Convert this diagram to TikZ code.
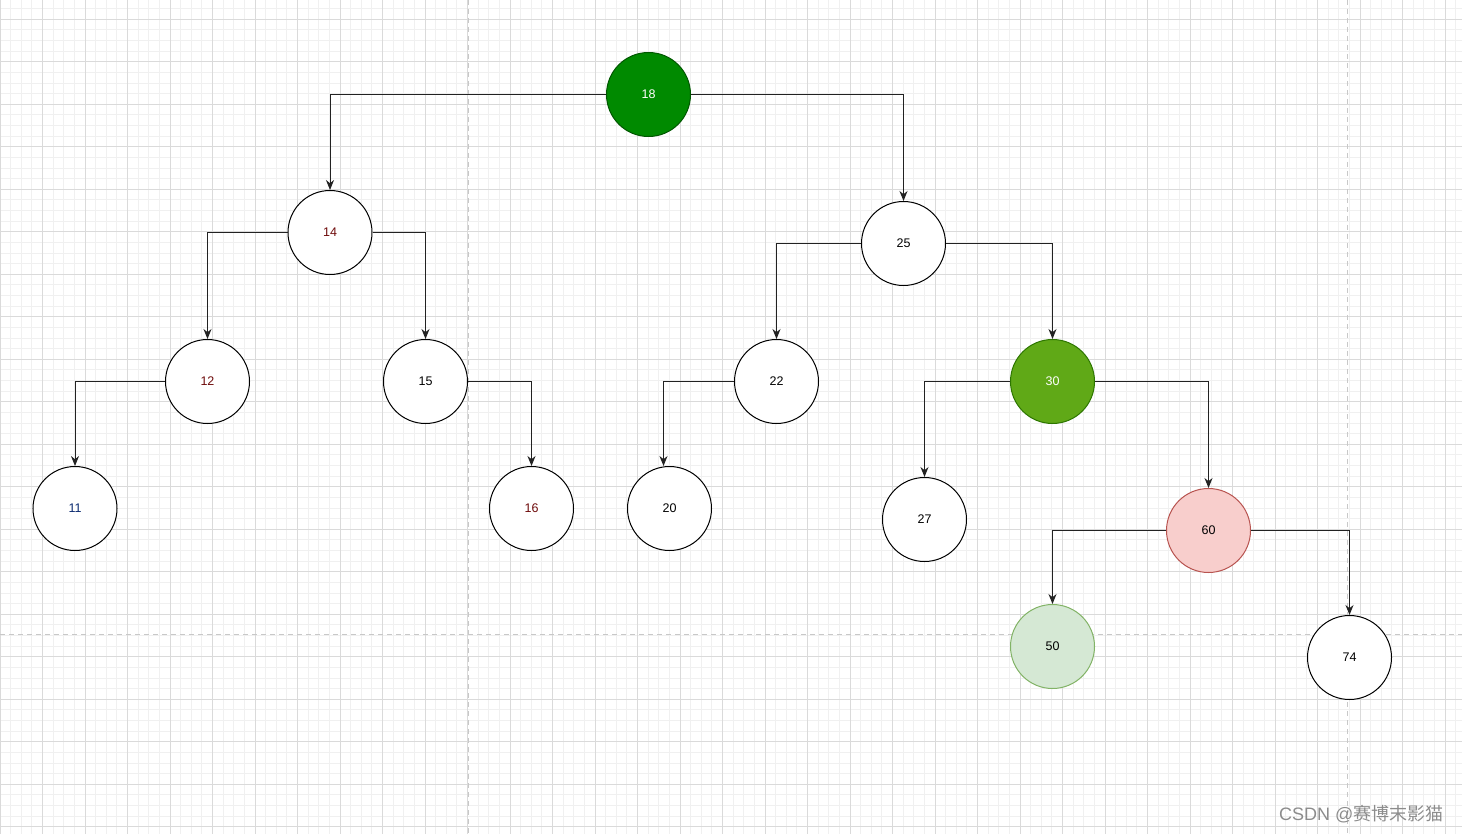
\documentclass[tikz,border=0pt]{standalone}
\usepackage{fontspec}
\setmainfont{Liberation Sans}
\newfontfamily\cjk{Noto Sans CJK SC}
\usetikzlibrary{arrows.meta}
\definecolor{gridminor}{HTML}{F0F0F0}
\definecolor{gridmajor}{HTML}{DADADA}
\definecolor{pageline}{HTML}{C8C8C8}
\definecolor{rootfill}{HTML}{008A00}
\definecolor{rootline}{HTML}{005700}
\definecolor{midfill}{HTML}{60A917}
\definecolor{midline}{HTML}{2D7600}
\definecolor{redfill}{HTML}{F8CECC}
\definecolor{redline}{HTML}{B85450}
\definecolor{grnfill}{HTML}{D5E8D4}
\definecolor{grnline}{HTML}{82B366}
\definecolor{darkred}{HTML}{6E0A0A}
\definecolor{darkblue}{HTML}{0A2A70}
\definecolor{edgecol}{HTML}{222222}
\tikzset{
  treenode/.style={circle, draw=black, fill=white, line width=1pt, minimum size=84pt, inner sep=0pt,
    font=\fontsize{12.5}{14}\selectfont},
  edge/.style={draw=edgecol, line width=1pt, -{Stealth[length=10pt,width=8pt]}},
}
\begin{document}
\begin{tikzpicture}[x=1pt,y=-1pt]
\useasboundingbox (0,0) rectangle (1462,834);
\fill[white] (0,0) rectangle (1462,834);
% minor grid
\foreach \i in {0,...,138} {
  \draw[gridminor, line width=1pt] ({\i*10.625},0) -- ({\i*10.625},834);
}
\foreach \j in {0,...,79} {
  \draw[gridminor, line width=1pt] (0,{8.675+\j*10.625}) -- (1462,{8.675+\j*10.625});
}
% major grid
\foreach \i in {0,...,34} {
  \draw[gridmajor, line width=1pt] ({\i*42.5},0) -- ({\i*42.5},834);
}
\foreach \j in {0,...,19} {
  \draw[gridmajor, line width=1pt] (0,{19.3+\j*42.5}) -- (1462,{19.3+\j*42.5});
}
% page break lines
\draw[pageline, line width=1pt, dash pattern=on 5pt off 4pt] (468,0) -- (468,834);
\draw[pageline, line width=1pt, dash pattern=on 5pt off 4pt] (1347,0) -- (1347,834);
\draw[pageline, line width=1pt, dash pattern=on 5pt off 4pt] (0,634) -- (1462,634);

% nodes
\node[treenode, fill=rootfill, draw=rootline, text=white] (n18) at (648.5,94.5) {18};
\node[treenode, text=darkred] (n14) at (330,232.5) {14};
\node[treenode] (n25) at (903.5,243.5) {25};
\node[treenode, text=darkred] (n12) at (207.5,381.5) {12};
\node[treenode] (n15) at (425.5,381.5) {15};
\node[treenode] (n22) at (776.5,381.5) {22};
\node[treenode, fill=midfill, draw=midline, text=white] (n30) at (1052.5,381.5) {30};
\node[treenode, text=darkblue] (n11) at (75,508.5) {11};
\node[treenode, text=darkred] (n16) at (531.5,508.5) {16};
\node[treenode] (n20) at (669.5,508.5) {20};
\node[treenode] (n27) at (924.5,519.5) {27};
\node[treenode, fill=redfill, draw=redline] (n60) at (1208.5,530.5) {60};
\node[treenode, fill=grnfill, draw=grnline] (n50) at (1052.5,646.5) {50};
\node[treenode] (n74) at (1349.5,657.5) {74};

% edges
\draw[edge] (n18.west) -| (n14.north);
\draw[edge] (n18.east) -| (n25.north);
\draw[edge] (n14.west) -| (n12.north);
\draw[edge] (n14.east) -| (n15.north);
\draw[edge] (n25.west) -| (n22.north);
\draw[edge] (n25.east) -| (n30.north);
\draw[edge] (n12.west) -| (n11.north);
\draw[edge] (n15.east) -| (n16.north);
\draw[edge] (n22.west) -| ([xshift=-6pt]n20.north);
\draw[edge] (n30.west) -| (n27.north);
\draw[edge] (n30.east) -| (n60.north);
\draw[edge] (n60.west) -| (n50.north);
\draw[edge] (n60.east) -| (n74.north);

% watermark
\node[anchor=east, text=black!45, font=\fontsize{18}{20}\selectfont] (wm) at (1447,814) {CSDN @\cjk 赛博末影猫};
\end{tikzpicture}
\end{document}
